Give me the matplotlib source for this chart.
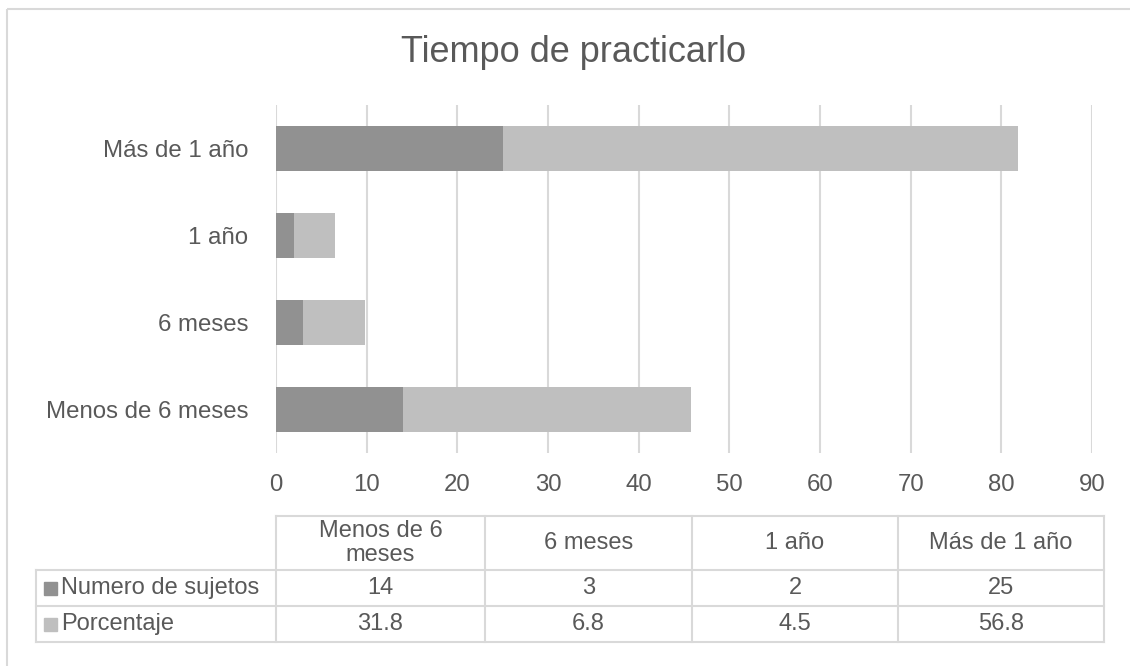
import matplotlib
matplotlib.use('Agg')
import matplotlib.pyplot as plt
from matplotlib.patches import Rectangle

plt.rcParams['font.family'] = ['Liberation Sans', 'DejaVu Sans']

# data
categories = ['Menos de 6 meses', '6 meses', '1 año', 'Más de 1 año']
header_labels = ['Menos de 6\nmeses', '6 meses', '1 año', 'Más de 1 año']
series_names = ['Numero de sujetos', 'Porcentaje']
sujetos = [14, 3, 2, 25]
porcentaje = [31.8, 6.8, 4.5, 56.8]
x_ticks = [0, 10, 20, 30, 40, 50, 60, 70, 80, 90]

DARK = '#919191'
LIGHT = '#bfbfbf'
TXT = '#595959'
GRID = '#d9d9d9'

W, H = 1130, 666
fig = plt.figure(figsize=(W / 100, H / 100), dpi=100)

# overlay axes in pixel coordinates for frame + table
ov = fig.add_axes([0, 0, 1, 1])
ov.set_xlim(0, W)
ov.set_ylim(H, 0)
ov.axis('off')

# chart frame (only left/top visible in crop)
ov.plot([7, 7], [H, 9], color=GRID, lw=1.5, solid_capstyle='butt')
ov.plot([7, W], [9, 9], color=GRID, lw=1.5, solid_capstyle='butt')

ov.text(574, 53, 'Tiempo de practicarlo', fontsize=26, color=TXT,
        ha='center', va='center')

# main bar axes
x0, x1, ytop, ybot = 276, 1092, 105, 453
ax = fig.add_axes([x0 / W, 1 - ybot / H, (x1 - x0) / W, (ybot - ytop) / H])
ypos = list(range(len(categories)))
ax.barh(ypos, sujetos, height=0.51, color=DARK, zorder=3)
ax.barh(ypos, porcentaje, left=sujetos, height=0.51, color=LIGHT, zorder=3)
ax.set_xlim(0, 90)
ax.set_ylim(-0.5, len(categories) - 0.5)
ax.set_xticks(x_ticks)
ax.set_yticks(ypos)
ax.set_yticklabels(categories)
ax.tick_params(axis='both', length=0, labelsize=17.3, colors=TXT)
ax.tick_params(axis='y', pad=20)
ax.tick_params(axis='x', pad=15)
ax.xaxis.grid(True, color=GRID, lw=1.5)
ax.set_axisbelow(True)
for s in ax.spines.values():
    s.set_visible(False)
ax.patch.set_alpha(0)

# data table
col_edges = [276, 485, 692, 898, 1104]
lab_left = 36
row_edges = [516, 570, 606, 642]
lw = 1.5
# vertical lines
for cx in col_edges:
    ov.plot([cx, cx], [row_edges[0], row_edges[-1]], color=GRID, lw=lw)
ov.plot([lab_left, lab_left], [row_edges[1], row_edges[-1]], color=GRID, lw=lw)
# horizontal lines
ov.plot([col_edges[0], col_edges[-1]], [row_edges[0], row_edges[0]], color=GRID, lw=lw)
for ry in row_edges[1:]:
    ov.plot([lab_left, col_edges[-1]], [ry, ry], color=GRID, lw=lw)

# header
for i, lab in enumerate(header_labels):
    cx = (col_edges[i] + col_edges[i + 1]) / 2
    cy = (row_edges[0] + row_edges[1]) / 2
    ov.text(cx, cy, lab, fontsize=17, color=TXT, ha='center', va='center',
            linespacing=1.15)

# rows
rows = [sujetos, porcentaje]
colors = [DARK, LIGHT]
for r, (name, vals, c) in enumerate(zip(series_names, rows, colors)):
    cy = (row_edges[r + 1] + row_edges[r + 2]) / 2
    ov.add_patch(Rectangle((44, cy - 6.5), 13, 13, color=c))
    ov.text(61, cy, name, fontsize=17, color=TXT, ha='left', va='center')
    for i, v in enumerate(vals):
        cx = (col_edges[i] + col_edges[i + 1]) / 2
        ov.text(cx, cy, f'{v:g}', fontsize=17, color=TXT, ha='center', va='center')

fig.savefig('out.png', dpi=100)
